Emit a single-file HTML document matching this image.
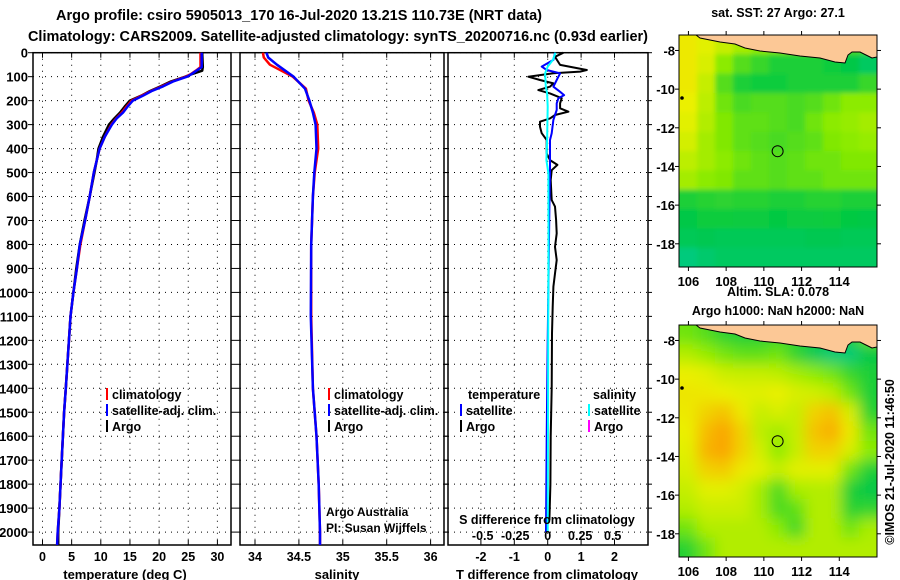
<!DOCTYPE html>
<html><head><meta charset="utf-8"><title>Argo profile</title>
<style>html,body{margin:0;padding:0;background:#fff}svg{display:block}
text{font-family:"Liberation Sans",sans-serif;font-weight:bold;fill:#000}</style></head>
<body>
<svg id="c" width="900" height="580" viewBox="0 0 900 580" xmlns="http://www.w3.org/2000/svg">
<defs><filter id="bl" x="0" y="0" width="1" height="1"><feGaussianBlur stdDeviation="7"/></filter>
<filter id="bl2" x="0" y="0" width="1" height="1"><feGaussianBlur stdDeviation="2.5"/></filter>
<clipPath id="cm1"><rect x="679" y="35" width="198" height="232"/></clipPath>
<clipPath id="cm2"><rect x="679" y="325" width="198" height="232"/></clipPath></defs>
<text x="299" y="20" font-size="14.5" text-anchor="middle" textLength="486" lengthAdjust="spacingAndGlyphs">Argo profile: csiro 5905013_170 16-Jul-2020 13.21S 110.73E (NRT data)</text>
<text x="338" y="41" font-size="14.5" text-anchor="middle" textLength="620" lengthAdjust="spacingAndGlyphs">Climatology: CARS2009. Satellite-adjusted climatology: synTS_20200716.nc (0.93d earlier)</text>
</svg>
<script>
// ---- profile data ----
const tDepth=[0,60,75,90,100,120,140,160,180,200,225,250,275,300,350,400,450,500,600,700,800,900,1000,1100,1400,1500,1700,1900,2000,2054];
const tClim=[27.1,27.1,26.3,25.4,24.6,22.3,20.5,18.6,17.0,15.3,14.4,13.6,12.6,11.8,10.7,9.8,9.3,8.8,8.1,7.3,6.5,5.9,5.3,4.8,4.0,3.7,3.3,2.9,2.6,2.5];
const tSat=[27.3,27.3,26.4,25.5,24.8,22.4,20.7,18.7,17.2,15.5,14.6,13.8,12.7,11.9,10.7,9.8,9.3,8.8,8.1,7.3,6.4,5.9,5.3,4.8,4.0,3.7,3.3,2.9,2.6,2.5];
const tArgo=[27.4,27.5,27.4,25.5,24.5,22.0,20.3,18.4,16.9,15.0,14.1,13.3,12.3,11.4,10.4,9.6,9.3,8.9,8.1,7.2,6.4,5.8,5.3,4.8,4.0,3.7,3.3,2.9,2.7,2.7];
const sDepth=[0,20,50,100,150,200,250,300,400,500,600,800,1100,1400,1600,1800,2000,2054];
const sClim=[34.09,34.1,34.17,34.43,34.58,34.61,34.67,34.71,34.72,34.68,34.66,34.64,34.64,34.66,34.70,34.725,34.74,34.74];
const sSat=[34.13,34.15,34.25,34.44,34.57,34.62,34.66,34.69,34.70,34.675,34.66,34.64,34.635,34.66,34.70,34.725,34.74,34.74];
const dArgoDepth=[0,17,51,72,79,86,100,114,128,142,156,170,190,211,232,246,260,274,288,309,336,364,420,448,468,490,531,615,642,698,754,810,865,921,976,1060,1171,1400,1600,1800,1950];
const dTArgo=[0.47,0.22,0.37,1.17,0.97,0.17,-0.58,-0.23,0.17,0.07,-0.28,0.07,0.42,0.37,0.37,0.62,0.22,0.07,-0.23,-0.23,-0.18,-0.03,-0.03,0.07,0.29,0.12,0.09,0.12,0.22,0.25,0.27,0.22,0.27,0.22,0.17,0.15,0.13,0.12,0.09,0.08,0.05];
const dSatDepth=[0,30,58,72,86,114,142,163,177,190,211,239,280,336,364,420,504,640,780,1200,1600,2000];
const dTSat=[0.22,0.17,-0.18,-0.03,0.37,0.27,0.17,0.37,0.49,0.32,0.27,0.27,0.17,0.12,0.07,0.07,0.07,0.05,0.04,0.0,-0.03,-0.05];
const dSDepth=[0,30,58,86,142,170,225,295,364,448,503,780,1200,1600,2000];
const dSSat=[0.06,0.04,0.0,-0.02,-0.015,-0.005,0.0,-0.002,-0.005,-0.01,0.005,0.006,0.004,0.002,0.0];
// map grids (lon 105.5-116, lat -7.2 to -19.2); colour index 0..1
const sstGrid=[
[.72,.68,.62,.55,.5,.48,.45,.42,.4,.38,.38],
[.72,.66,.5,.4,.35,.3,.3,.3,.28,.25,.2],
[.72,.62,.4,.3,.28,.28,.3,.3,.3,.3,.35],
[.7,.6,.45,.38,.4,.4,.38,.4,.45,.5,.5],
[.68,.58,.48,.42,.42,.4,.38,.45,.5,.52,.55],
[.65,.55,.48,.42,.4,.38,.4,.42,.48,.5,.52],
[.6,.55,.5,.45,.42,.4,.42,.45,.45,.48,.48],
[.55,.5,.48,.42,.42,.4,.42,.42,.45,.45,.45],
[.3,.32,.33,.32,.32,.3,.3,.32,.32,.3,.3],
[.25,.28,.28,.27,.27,.26,.27,.27,.28,.26,.25],
[.22,.23,.22,.22,.22,.22,.22,.23,.23,.22,.22],
[.15,.18,.2,.2,.2,.2,.2,.2,.2,.2,.2]];
const slaGrid=[
[.45,.4,.33,.3,.3,.35,.35,.3,.3,.3,.45],
[.58,.52,.46,.42,.42,.45,.33,.22,.16,.16,.25],
[.7,.68,.63,.62,.62,.6,.55,.5,.45,.35,.3],
[.73,.72,.7,.68,.68,.7,.66,.64,.6,.45,.3],
[.72,.78,.82,.72,.62,.66,.62,.78,.82,.66,.32],
[.7,.84,.9,.78,.6,.55,.62,.82,.88,.72,.45],
[.68,.86,.92,.78,.65,.5,.62,.78,.78,.66,.5],
[.66,.78,.8,.72,.68,.62,.68,.68,.68,.45,.3],
[.62,.68,.68,.65,.55,.38,.56,.58,.58,.3,.25],
[.58,.63,.63,.63,.55,.38,.42,.58,.58,.32,.33],
[.45,.58,.58,.58,.58,.5,.36,.58,.58,.45,.56],
[.32,.45,.58,.58,.58,.58,.58,.58,.58,.58,.58]];
const tTicks=[0,5,10,15,20,25,30];
const sTicks=[34,34.5,35,35.5,36];
const sTickLabels=["34","34.5","35","35.5","36"];
const dTTicks=[-2,-1,0,1,2];
const dSTicks=[-0.5,-0.25,0,0.25,0.5];
const depthTicks=[0,100,200,300,400,500,600,700,800,900,1000,1100,1200,1300,1400,1500,1600,1700,1800,1900,2000];
const latTicks=[-8,-10,-12,-14,-16,-18];
const lonTicks=[106,108,110,112,114];

const svg=document.getElementById('c');
const NS='http://www.w3.org/2000/svg';
function mk(tag,a,parent){const e=document.createElementNS(NS,tag);for(const k in a)e.setAttribute(k,a[k]);(parent||svg).appendChild(e);return e;}
function txt(x,y,s,size,anchor,parent){const e=mk('text',{x:x,y:y,'font-size':size,'text-anchor':anchor||'middle'},parent);e.textContent=s;return e;}
const PT=52.7,PB=545,yD=d=>PT+d*0.2397;
const xT=v=>42.5+v*5.83, xS=v=>255+(v-34)*87.8, xDT=v=>547.7+v*33.4, xDS=v=>547.7+v*130;
const panels=[{l:33,r:231,name:'temperature-panel'},{l:240,r:444,name:'salinity-panel'},{l:448,r:648,name:'difference-panel'}];
function grid(p,xs,fx){
 const g=mk('g',{});
 
 
 xs.forEach(v=>{const x=fx(v);mk('line',{x1:x,x2:x,y1:PT,y2:PB,stroke:'#000','stroke-width':1,'stroke-dasharray':'1,5'},g);
  mk('line',{x1:x,x2:x,y1:PT,y2:PT+5,stroke:'#000'},g);mk('line',{x1:x,x2:x,y1:PB,y2:PB-5,stroke:'#000'},g);});
 depthTicks.forEach(d=>{const y=yD(d);mk('line',{x1:p.l,x2:p.r,y1:y,y2:y,stroke:'#000','stroke-dasharray':'1,5'},g);
  mk('line',{x1:p.l-5,x2:p.l,y1:y,y2:y,stroke:'#000'},g);mk('line',{x1:p.r,x2:p.r+4,y1:y,y2:y,stroke:'#000'},g);});
 const r=mk('rect',{x:p.l,y:PT,width:p.r-p.l,height:PB-PT,fill:'none',stroke:'#000','stroke-width':1.5});
 
 
}
grid(panels[0],tTicks,xT);grid(panels[1],sTicks,xS);grid(panels[2],dTTicks,xDT);
function line(xs,ds,fx,col,w,name){
 const pts=xs.map((v,i)=>fx(v).toFixed(1)+','+yD(ds[i]).toFixed(1)).join(' ');
 const e=mk('polyline',{points:pts,fill:'none',stroke:col,'stroke-width':w,'stroke-linejoin':'round'});
 
 
}
line(tArgo,tDepth,xT,'#000',2.5,'temperature-argo-line');
line(tClim,tDepth,xT,'#f00',2.5,'temperature-climatology-line');
line(tSat,tDepth,xT,'#00f',2.5,'temperature-satellite-line');
line(sClim,sDepth,xS,'#f00',2.5,'salinity-climatology-line');
line(sSat,sDepth,xS,'#00f',2.5,'salinity-satellite-line');
line(dTArgo,dArgoDepth,xDT,'#000',2,'tdiff-argo-line');
line(dTSat,dSatDepth,xDT,'#00f',2,'tdiff-satellite-line');
line(dSSat,dSDepth,xDS,'#0ff',2,'sdiff-satellite-line');
// depth labels
depthTicks.forEach(d=>{const t=txt(28,yD(d)+5,String(d),13,'end');});
tTicks.forEach(v=>{const t=txt(xT(v),561,String(v),12.5);});
sTicks.forEach((v,i)=>{const t=txt(xS(v),561,sTickLabels[i],12.5);});
dTTicks.forEach(v=>{const t=txt(xDT(v),561,String(v),12.5);});
dSTicks.forEach(v=>{const t=txt(xDS(v),540,String(v),12.5);});
[[125,'temperature (deg C)','x-axis-title-temperature'],[337,'salinity','x-axis-title-salinity'],[547,'T difference from climatology','x-axis-title-tdiff']].forEach(a=>{const t=txt(a[0],579,a[1],13);});
{const t=txt(547,524,'S difference from climatology',12.5);}
// legends
function leg(x,y,col,label,name){const g=mk('g',{});
 mk('line',{x1:x,x2:x,y1:y-11,y2:y+1,stroke:col,'stroke-width':2},g);txt(x+5,y,label,12.5,'start',g);}
leg(107,399,'#f00','climatology','legend-climatology');leg(107,415,'#00f','satellite-adj. clim.','legend-satellite-adj');leg(107,431,'#000','Argo','legend-argo');
leg(329,399,'#f00','climatology','legend-climatology-s');leg(329,415,'#00f','satellite-adj. clim.','legend-satellite-adj-s');leg(329,431,'#000','Argo','legend-argo-s');
{const t=txt(468,399,'temperature',12.5,'start');}
{const t=txt(593,399,'salinity',12.5,'start');}
leg(461,415,'#00f','satellite','legend-t-satellite');leg(461,431,'#000','Argo','legend-t-argo');
leg(589,415,'#0ff','satellite','legend-s-satellite');leg(589,431,'#f0f','Argo','legend-s-argo');
{const g=mk('g',{});
 const a=txt(326,516,'Argo Australia',12,'start',g);a.setAttribute('font-weight','normal');const b=txt(326,532,'PI: Susan Wijffels',12,'start',g);b.setAttribute('font-weight','normal');}
// maps
const stops=[[0,[0,205,205]],[0.25,[0,200,70]],[0.5,[140,235,0]],[0.7,[235,240,0]],[0.9,[250,165,0]]];
function cmap(v){for(let i=1;i<stops.length;i++){if(v<=stops[i][0]||i==stops.length-1){const a=stops[i-1],b=stops[i];let t=(v-a[0])/(b[0]-a[0]);t=Math.max(0,Math.min(1,t));
 return 'rgb('+a[1].map((c,k)=>Math.round(c+(b[1][k]-c)*t)).join(',')+')';}}}
function map(top,gridV,blur,name,title){
 const L=679,W=198,H=232,lon0=105.5,lon1=116,lat0=-7.2,lat1=-19.2;
 const mx=lo=>L+(lo-lon0)/(lon1-lon0)*W, my=la=>top+(la-lat0)/(lat1-lat0)*H;
 const g=mk('g',{'clip-path':'url(#'+(top<100?'cm1':'cm2')+')'});
 
 
 const ig=mk('g',{filter:blur?'url(#bl)':'url(#bl2)'},g);
 const nr=gridV.length,nc=gridV[0].length,cw=W/nc,ch=H/nr;
 mk('rect',{x:L-20,y:top-20,width:W+40,height:H+40,fill:cmap(0.5)},ig);
 gridV.forEach((row,r)=>row.forEach((v,c)=>{const e=mk('rect',{x:L+c*cw-(c==0?20:0),y:top+r*ch-(r==0?20:0),width:cw+0.6+((c==0||c==nc-1)?20:0),height:ch+0.6+((r==0||r==nr-1)?20:0),fill:cmap(v)},ig);
  }));
 if(!blur)mk('rect',{x:818,y:top,width:59,height:14,fill:'rgb(245,190,0)'},g);
 const land=[[696,0],[700,3],[720,7],[735,9],[745,13],[760,16],[780,18],[800,21],[820,23],[835,27],[845,28],[848,20],[852,17],[860,17],[866,20],[872,23],[877,22],[877,0]].map(p=>p[0]+','+(top+p[1])).join(' ');
 const ld=mk('polygon',{points:land,fill:'#fcc896',stroke:'#000','stroke-width':1},g);
 
 const cx=mx(110.73),cy=my(-13.21);
 const ci=mk('circle',{cx:cx,cy:cy,r:5.5,fill:'none',stroke:'#000','stroke-width':1},svg);
 
 
 mk('circle',{cx:682,cy:top+63,r:1.8,fill:'#000'});
 mk('rect',{x:L,y:top,width:W,height:H,fill:'none',stroke:'#000','stroke-width':1});
 latTicks.forEach(la=>{const y=my(la);mk('line',{x1:L-4,x2:L,y1:y,y2:y,stroke:'#000'});mk('line',{x1:L+W,x2:L+W+4,y1:y,y2:y,stroke:'#000'});
  const t=txt(L-4,y+5,String(la),13,'end');});
 lonTicks.forEach(lo=>{const x=mx(lo);mk('line',{x1:x,x2:x,y1:top-4,y2:top,stroke:'#000'});mk('line',{x1:x,x2:x,y1:top+H,y2:top+H+4,stroke:'#000'});
  const t=txt(x,top+H+19,String(lo),13);});
 const tt=txt(L+W/2,top-(top<100?18:10),title,12.5);
}
map(35,sstGrid,false,'sst-map','sat. SST: 27 Argo: 27.1');
map(325,slaGrid,true,'sla-map','Argo h1000: NaN h2000: NaN');
{const t=txt(778,296,'Altim. SLA: 0.078',12.5);}
{const t=txt(0,0,'©IMOS 21-Jul-2020 11:46:50',12.5);t.setAttribute('font-weight','normal');t.setAttribute('transform','translate(894,462) rotate(-90)');
 }
</script>
</body></html>
